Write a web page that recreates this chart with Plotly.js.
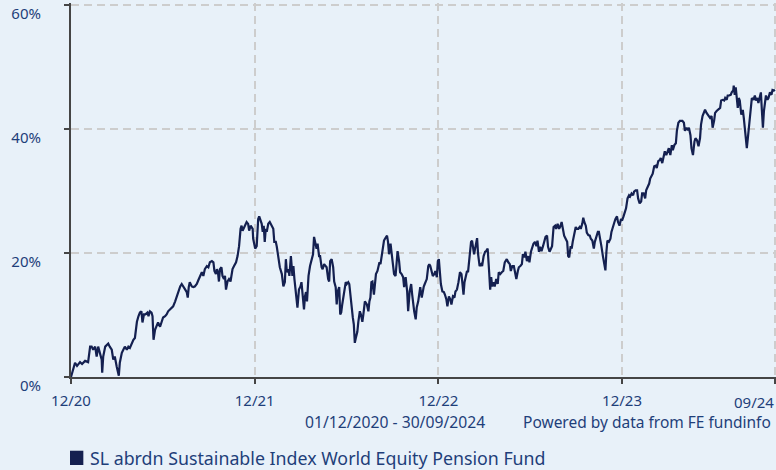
<!DOCTYPE html>
<html><head><meta charset="utf-8">
<script src="https://cdn.plot.ly/plotly-3.0.1.min.js"></script>
<style>html,body{margin:0;padding:0;background:#e8f1f9;}#chart{width:776px;height:470px;}</style>
</head><body><div id="chart"></div>
<script>
// ---- data (cumulative performance, %) ----
const fundName = 'SL abrdn Sustainable Index World Equity Pension Fund';
const periodLabel = '01/12/2020 - 30/09/2024';
const sourceLabel = 'Powered by data from FE fundinfo';
const xTickVals = ['2020-12-01','2021-12-01','2022-12-01','2023-12-01','2024-09-30'];
const xTickText = ['12/20','12/21','12/22','12/23',''];
const xEndTickVal = '2024-09-30';
const xEndTickText = '09/24';
const yTickVals = [0,20,40,60];
const yTickText = ['0%','20%','40%','60%'];

const dates2021 = ['2020-12-01','2020-12-05','2020-12-09','2020-12-13','2020-12-19','2020-12-23','2020-12-29',
'2021-01-04','2021-01-08','2021-01-11','2021-01-14','2021-01-18','2021-01-21','2021-01-24','2021-01-28','2021-01-31',
'2021-02-01','2021-02-03','2021-02-07','2021-02-10','2021-02-13','2021-02-16','2021-02-20','2021-02-23','2021-02-26',
'2021-03-02','2021-03-05','2021-03-06','2021-03-08','2021-03-12','2021-03-15','2021-03-18','2021-03-22','2021-03-25','2021-03-28',
'2021-04-01','2021-04-04','2021-04-07','2021-04-11','2021-04-14','2021-04-17','2021-04-20','2021-04-22','2021-04-25','2021-04-28',
'2021-05-02','2021-05-04','2021-05-07','2021-05-10','2021-05-12','2021-05-14','2021-05-17','2021-05-20','2021-05-23','2021-05-27','2021-05-30',
'2021-06-02','2021-06-06','2021-06-09','2021-06-12','2021-06-16','2021-06-19','2021-06-22','2021-06-26','2021-06-29',
'2021-07-02','2021-07-06','2021-07-09','2021-07-12','2021-07-16','2021-07-19','2021-07-21','2021-07-23','2021-07-25','2021-07-29',
'2021-08-01','2021-08-04','2021-08-08','2021-08-11','2021-08-14','2021-08-18','2021-08-21','2021-08-24','2021-08-28','2021-08-31',
'2021-09-03','2021-09-07','2021-09-10','2021-09-12','2021-09-15','2021-09-17','2021-09-19','2021-09-21','2021-09-23','2021-09-26','2021-09-28',
'2021-10-01','2021-10-03','2021-10-05','2021-10-08','2021-10-11','2021-10-14','2021-10-16','2021-10-18','2021-10-21','2021-10-25','2021-10-28','2021-10-31',
'2021-11-03','2021-11-05','2021-11-07','2021-11-10','2021-11-12','2021-11-15','2021-11-18','2021-11-20','2021-11-23','2021-11-27','2021-11-28','2021-11-30',
'2021-12-02','2021-12-05','2021-12-08','2021-12-10','2021-12-13','2021-12-15','2021-12-17','2021-12-19','2021-12-21','2021-12-23','2021-12-25','2021-12-28','2021-12-31'];
const values2021 = [0.0,1.1,2.3,1.8,2.4,2.1,2.6,
2.4,4.9,4.9,4.4,4.9,3.3,4.9,3.9,2.8,
0.7,3.3,4.9,5.2,5.4,4.9,4.4,2.8,3.3,
1.6,0.7,0.2,2.3,3.9,4.4,4.9,4.4,4.9,4.7,
5.5,6.0,6.3,8.9,9.8,10.4,10.6,8.8,10.1,10.1,
10.4,9.8,10.6,10.4,9.8,6.0,7.6,8.1,8.8,8.1,8.9,
9.6,9.8,10.1,10.6,10.9,11.2,11.4,12.2,13.0,
13.7,14.6,15.0,14.5,14.1,13.7,12.8,14.5,15.3,14.6,
14.5,14.6,15.0,15.6,16.3,16.9,16.3,17.4,17.9,17.7,
18.5,18.7,18.5,17.1,16.6,17.4,16.9,15.4,17.4,17.7,16.3,
15.8,16.3,14.1,15.4,15.8,15.4,16.6,17.4,17.9,18.5,19.5,21.1,
23.9,24.4,23.6,24.2,24.7,25.0,24.7,23.6,24.4,23.9,22.3,21.5,
20.7,21.1,25.5,25.9,25.0,24.7,23.4,24.4,21.8,23.9,23.4,24.7,25.0];

const dates2022 = ['2022-01-04','2022-01-07','2022-01-09','2022-01-12','2022-01-14','2022-01-17','2022-01-20','2022-01-24','2022-01-27','2022-01-30',
'2022-02-01','2022-02-03','2022-02-06','2022-02-08','2022-02-11','2022-02-14','2022-02-16','2022-02-18','2022-02-20','2022-02-22','2022-02-24','2022-02-27',
'2022-03-02','2022-03-04','2022-03-06','2022-03-09','2022-03-11','2022-03-13','2022-03-15','2022-03-18','2022-03-21','2022-03-24','2022-03-27','2022-03-29',
'2022-04-01','2022-04-03','2022-04-05','2022-04-08','2022-04-10','2022-04-13','2022-04-15','2022-04-18','2022-04-20','2022-04-23','2022-04-26','2022-04-28','2022-04-30',
'2022-05-03','2022-05-06','2022-05-08','2022-05-11','2022-05-13','2022-05-15','2022-05-18','2022-05-20','2022-05-22','2022-05-24','2022-05-27','2022-05-31',
'2022-06-02','2022-06-05','2022-06-07','2022-06-10','2022-06-12','2022-06-14','2022-06-16','2022-06-18','2022-06-20','2022-06-23','2022-06-25','2022-06-28','2022-06-30',
'2022-07-03','2022-07-05','2022-07-08','2022-07-12','2022-07-15','2022-07-17','2022-07-19','2022-07-21','2022-07-23','2022-07-26','2022-07-28','2022-07-30',
'2022-08-02','2022-08-04','2022-08-06','2022-08-08','2022-08-10','2022-08-12','2022-08-15','2022-08-17','2022-08-19','2022-08-21','2022-08-23','2022-08-25','2022-08-28','2022-08-30',
'2022-09-02','2022-09-04','2022-09-07','2022-09-09','2022-09-11','2022-09-14','2022-09-16','2022-09-19','2022-09-22','2022-09-24','2022-09-27','2022-09-30',
'2022-10-02','2022-10-05','2022-10-08','2022-10-10','2022-10-12','2022-10-14','2022-10-17','2022-10-19','2022-10-22','2022-10-24','2022-10-26','2022-10-29','2022-10-31',
'2022-11-02','2022-11-04','2022-11-08','2022-11-11','2022-11-13','2022-11-15','2022-11-18','2022-11-20','2022-11-23','2022-11-25','2022-11-28','2022-11-30',
'2022-12-02','2022-12-04','2022-12-06','2022-12-09','2022-12-12','2022-12-14','2022-12-17','2022-12-19','2022-12-22','2022-12-25','2022-12-27','2022-12-30'];
const values2022 = [24.4,23.9,21.8,21.8,21.0,19.3,17.7,16.6,14.6,15.3,
19.0,16.9,17.4,16.3,19.5,16.3,17.9,15.8,14.1,13.0,11.2,14.1,
14.6,15.3,13.3,10.9,13.0,13.7,12.2,16.3,17.9,19.0,19.8,22.6,
21.1,20.7,21.5,19.5,19.5,17.7,17.4,18.2,18.0,17.7,15.8,15.4,18.7,
19.0,17.7,15.4,14.5,11.7,13.8,14.5,10.1,10.4,11.7,13.3,15.3,
15.0,15.3,15.0,12.2,10.6,9.6,8.5,5.5,6.3,7.3,8.9,10.6,10.1,
8.9,10.1,12.2,11.7,10.6,12.2,12.8,15.3,15.4,13.3,15.0,16.6,
17.1,18.2,18.5,18.2,19.3,20.3,22.0,22.3,22.6,22.8,21.8,19.8,21.5,20.3,
18.2,16.6,16.3,19.3,20.3,18.7,16.9,16.6,16.1,14.5,16.1,13.8,
10.6,13.8,15.0,13.3,11.7,10.6,9.3,11.2,12.2,13.3,14.5,12.8,14.1,
14.6,15.0,15.8,17.9,18.2,17.9,16.6,16.3,16.6,17.1,16.1,18.7,
19.0,16.1,15.0,13.8,13.7,13.3,12.5,11.4,13.0,12.5,11.7,13.0];

const dates2023 = ['2023-01-02','2023-01-04','2023-01-07','2023-01-10','2023-01-13','2023-01-16','2023-01-20','2023-01-22','2023-01-24','2023-01-27','2023-01-29',
'2023-02-01','2023-02-04','2023-02-06','2023-02-08','2023-02-10','2023-02-13','2023-02-16','2023-02-18','2023-02-21','2023-02-24','2023-02-26',
'2023-03-01','2023-03-04','2023-03-06','2023-03-09','2023-03-12','2023-03-14','2023-03-16','2023-03-18','2023-03-21','2023-03-23','2023-03-26','2023-03-29','2023-03-31',
'2023-04-03','2023-04-06','2023-04-09','2023-04-12','2023-04-16','2023-04-19','2023-04-22','2023-04-24','2023-04-27','2023-04-30',
'2023-05-02','2023-05-05','2023-05-08','2023-05-10','2023-05-13','2023-05-16','2023-05-18','2023-05-21','2023-05-23','2023-05-26','2023-05-29','2023-05-31',
'2023-06-03','2023-06-06','2023-06-08','2023-06-11','2023-06-14','2023-06-16','2023-06-19','2023-06-21','2023-06-24','2023-06-27','2023-06-29',
'2023-07-02','2023-07-05','2023-07-07','2023-07-10','2023-07-13','2023-07-15','2023-07-18','2023-07-21','2023-07-23','2023-07-26','2023-07-29','2023-07-31',
'2023-08-03','2023-08-06','2023-08-08','2023-08-11','2023-08-14','2023-08-16','2023-08-18','2023-08-21','2023-08-23','2023-08-25','2023-08-28','2023-08-31',
'2023-09-02','2023-09-05','2023-09-08','2023-09-10','2023-09-13','2023-09-15','2023-09-17','2023-09-20','2023-09-22','2023-09-25','2023-09-28','2023-09-30',
'2023-10-03','2023-10-06','2023-10-08','2023-10-11','2023-10-14','2023-10-16','2023-10-19','2023-10-21','2023-10-24','2023-10-27','2023-10-29','2023-10-31',
'2023-11-02','2023-11-05','2023-11-08','2023-11-10','2023-11-13','2023-11-16','2023-11-18','2023-11-21','2023-11-23','2023-11-26','2023-11-29',
'2023-12-01','2023-12-04','2023-12-07','2023-12-09','2023-12-12','2023-12-15','2023-12-17','2023-12-20','2023-12-23','2023-12-25','2023-12-28','2023-12-31'];
const values2023 = [12.8,13.8,14.1,15.3,16.9,16.6,13.3,15.3,16.3,17.1,16.9,
19.0,21.8,22.0,20.7,19.8,21.1,22.4,19.8,17.9,18.2,17.9,
19.5,20.2,20.3,20.7,16.9,14.1,16.1,14.6,15.3,14.6,15.8,15.0,16.9,
16.6,16.9,17.1,18.5,19.0,18.5,18.2,17.1,17.9,17.9,
16.9,15.8,17.1,17.7,17.9,18.2,19.8,19.3,20.2,18.7,19.5,18.5,
20.2,21.1,21.5,21.8,21.1,22.0,20.2,21.0,20.3,21.1,21.8,
22.6,22.8,21.0,20.2,20.7,21.1,24.2,24.4,23.9,24.7,23.9,24.2,
25.0,23.4,22.8,22.3,21.8,19.5,19.3,21.1,20.7,21.8,23.4,24.2,
23.9,23.9,24.2,23.9,24.7,25.7,25.0,24.4,23.3,22.9,22.8,22.3,
22.0,20.7,21.8,22.8,23.4,23.4,22.3,21.1,19.5,17.9,17.2,20.2,
22.0,21.8,22.3,23.4,24.4,25.0,25.5,25.9,25.0,24.4,25.5,
25.2,25.9,26.7,27.2,28.8,29.3,29.1,29.6,29.3,29.9,30.1,30.1];

const dates2024 = ['2024-01-02','2024-01-05','2024-01-08','2024-01-10','2024-01-13','2024-01-16','2024-01-18','2024-01-21','2024-01-24','2024-01-26','2024-01-29','2024-01-31',
'2024-02-03','2024-02-06','2024-02-08','2024-02-11','2024-02-14','2024-02-16','2024-02-19','2024-02-22','2024-02-24','2024-02-27',
'2024-03-01','2024-03-03','2024-03-06','2024-03-09','2024-03-11','2024-03-14','2024-03-17','2024-03-19','2024-03-22','2024-03-25','2024-03-27','2024-03-30',
'2024-04-02','2024-04-04','2024-04-07','2024-04-10','2024-04-12','2024-04-15','2024-04-17','2024-04-20','2024-04-23','2024-04-25','2024-04-28',
'2024-05-01','2024-05-04','2024-05-06','2024-05-09','2024-05-12','2024-05-14','2024-05-17','2024-05-20','2024-05-24','2024-05-27','2024-05-29',
'2024-06-01','2024-06-03','2024-06-06','2024-06-09','2024-06-13','2024-06-15','2024-06-18','2024-06-21','2024-06-23','2024-06-26','2024-06-28',
'2024-07-01','2024-07-04','2024-07-06','2024-07-09','2024-07-10','2024-07-12','2024-07-14','2024-07-16','2024-07-18','2024-07-20','2024-07-22','2024-07-25','2024-07-28','2024-07-30',
'2024-08-01','2024-08-03','2024-08-05','2024-08-07','2024-08-10','2024-08-13','2024-08-15','2024-08-18','2024-08-21','2024-08-23','2024-08-26','2024-08-28','2024-08-31',
'2024-09-02','2024-09-04','2024-09-06','2024-09-08','2024-09-10','2024-09-12','2024-09-15','2024-09-17','2024-09-20','2024-09-23','2024-09-25','2024-09-28','2024-09-30'];
const values2024 = [28.8,28.0,28.3,29.6,29.6,28.8,30.1,30.7,31.2,32.0,32.4,32.8,
34.0,34.1,33.7,34.8,35.0,35.3,34.5,35.6,36.4,35.8,
36.6,36.9,35.8,37.4,36.6,37.4,37.7,39.7,41.0,41.3,41.3,41.3,
41.0,39.7,40.2,39.8,40.2,39.0,36.9,35.8,38.0,38.5,38.2,
37.2,38.5,40.7,42.1,42.6,43.1,42.6,42.3,41.8,42.1,40.2,
41.3,42.6,42.9,43.1,43.4,44.6,44.7,44.6,45.0,44.7,45.4,
45.4,45.5,45.9,46.2,47.0,45.5,46.7,45.0,43.4,45.0,44.6,42.3,43.1,41.8,
40.2,38.9,36.9,38.5,41.3,42.9,45.0,44.7,45.4,44.6,45.0,44.2,45.5,
45.9,42.9,40.2,42.9,44.6,45.4,44.7,45.0,45.9,45.5,46.3,46.2,46.3];

// ---- chart ----
const FONT = 'Noto Sans, Open Sans, sans-serif';
const TEXT = '#1f3f7a';
const LINE = '#142050';
const BG = '#e8f1f9';
const GRID = '#cdcdcd';
const AXIS = '#454545';

const x = dates2021.concat(dates2022, dates2023, dates2024);
const y = values2021.concat(values2022, values2023, values2024);

const trace = {
  type: 'scatter', mode: 'lines', x: x, y: y, name: fundName,
  line: {color: LINE, width: 2.2}, showlegend: false, hoverinfo: 'skip'
};

const layout = {
  width: 776, height: 470,
  margin: {l: 71, r: 0, t: 3, b: 93},
  paper_bgcolor: BG, plot_bgcolor: BG,
  font: {family: FONT, color: TEXT, size: 15},
  showlegend: false,
  xaxis: {
    type: 'date', range: ['2020-12-01', '2024-10-02'],
    tickmode: 'array', tickvals: xTickVals, ticktext: xTickText,
    showgrid: true, gridcolor: GRID, gridwidth: 2, griddash: '8px,5px',
    showline: true, linecolor: AXIS, linewidth: 2,
    ticks: 'outside', ticklen: 5, tickwidth: 2, tickcolor: AXIS,
    tickfont: {family: FONT, size: 15, color: TEXT},
    ticklabelstandoff: 4, zeroline: false, fixedrange: true
  },
  yaxis: {
    range: [0, 60.32],
    tickmode: 'array', tickvals: yTickVals, ticktext: yTickText,
    showgrid: true, gridcolor: GRID, gridwidth: 2, griddash: '8px,5px',
    showline: true, linecolor: AXIS, linewidth: 2,
    ticks: 'outside', ticklen: 5, tickwidth: 2, tickcolor: AXIS,
    tickfont: {family: FONT, size: 15, color: TEXT},
    ticklabelstandoff: 20, ticklabelshift: 9, zeroline: false, fixedrange: true
  },
  shapes: [{
    type: 'rect', xref: 'paper', yref: 'paper',
    x0: -0.0014, x1: 0.0175, y0: -0.2353, y1: -0.1971,
    fillcolor: LINE, line: {width: 0}
  }],
  annotations: [
    {text: xEndTickText, xref: 'x', yref: 'paper', x: xEndTickVal, y: -0.0668,
     xanchor: 'right', yanchor: 'middle', xshift: 1, showarrow: false,
     font: {family: FONT, size: 15, color: TEXT}},
    {text: periodLabel, xref: 'paper', yref: 'paper', x: 0.4596, y: -0.1203,
     xanchor: 'center', yanchor: 'middle', showarrow: false,
     font: {family: FONT, size: 15.7, color: TEXT}},
    {text: sourceLabel, xref: 'paper', yref: 'paper', x: 0.9957, y: -0.1203,
     xanchor: 'right', yanchor: 'middle', showarrow: false,
     font: {family: FONT, size: 15.5, color: TEXT}},
    {text: fundName, xref: 'paper', yref: 'paper', x: 0.0235, y: -0.2166,
     xanchor: 'left', yanchor: 'middle', showarrow: false,
     font: {family: FONT, size: 17.8, color: TEXT}}
  ]
};

Plotly.newPlot('chart', [trace], layout, {displayModeBar: false, staticPlot: true});
</script>
</body></html>
